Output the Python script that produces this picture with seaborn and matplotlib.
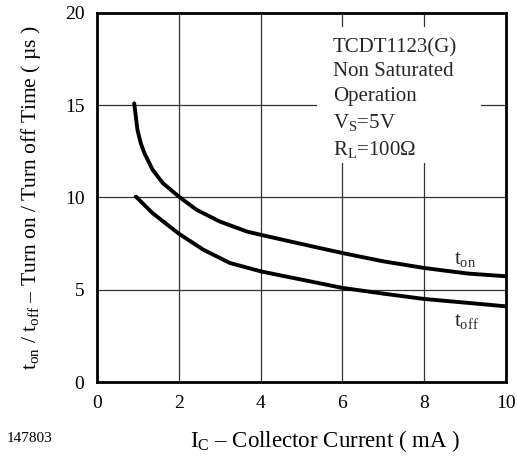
import pandas as pd
import matplotlib
matplotlib.use("Agg")
import matplotlib.pyplot as plt
from matplotlib.patches import Rectangle
import seaborn as sns

# t_on / t_off (IC in mA, time in us)
ic_on = [0.91, 0.99, 1.07, 1.16, 1.36, 1.61, 2.0, 2.43, 3.0, 3.66, 4.0, 4.48, 5.0, 6.0, 7.0, 8.0, 9.06, 10.0]
t_on = [15.1, 13.66, 12.94, 12.4, 11.5, 10.78, 10.05, 9.34, 8.7, 8.16, 7.98, 7.74, 7.48, 6.99, 6.54, 6.18, 5.88, 5.73]
ic_off = [0.95, 1.36, 2.0, 2.6, 3.25, 4.0, 4.48, 5.0, 6.0, 7.0, 8.0, 9.06, 10.0]
t_off = [10.05, 9.15, 8.04, 7.17, 6.45, 6.0, 5.78, 5.55, 5.1, 4.79, 4.5, 4.29, 4.1]
x_ticks = [0, 2, 4, 6, 8, 10]
y_ticks = [0, 5, 10, 15, 20]

sns.set_theme(style="white")
plt.rcParams['font.family'] = ['Liberation Serif', 'DejaVu Serif']
plt.rcParams['mathtext.fontset'] = 'custom'
plt.rcParams['mathtext.rm'] = 'Liberation Serif'
plt.rcParams['mathtext.it'] = 'Liberation Serif'

df_on = pd.DataFrame({"ic": ic_on, "t": t_on})
df_off = pd.DataFrame({"ic": ic_off, "t": t_off})

fig = plt.figure(figsize=(5.17, 4.57), dpi=100)
ax = fig.add_axes([0.1876, 0.1641, 0.7911, 0.8075])

sns.lineplot(data=df_on, x="ic", y="t", ax=ax, color="black", lw=2.8, zorder=3)
sns.lineplot(data=df_off, x="ic", y="t", ax=ax, color="black", lw=2.8, zorder=3)

ax.set_xlim(0, 10)
ax.set_ylim(0, 20)
ax.set_xticks(x_ticks)
ax.set_yticks(y_ticks)
ax.grid(True, color="#333333", lw=0.9)
ax.tick_params(length=0, labelsize=14, colors="black", pad=9)
for s in ax.spines.values():
    s.set_color("black")
    s.set_linewidth(2)

ax.set_xlabel(r"$\mathrm{I_C}$ – Collector Current ( mA )", fontsize=16.5, color="black")
ax.xaxis.set_label_coords(0.557, -0.125)
ax.set_ylabel(r"$\mathrm{t_{on}}$ / $\mathrm{t_{off}}$ – Turn on / Turn off Time ( µs )",
              fontsize=15.5, color="black", labelpad=16)

# white box behind the conditions text, cutting the grid
ax.add_patch(Rectangle((5.38, 11.88), 4.0, 7.35, facecolor="white", edgecolor="none", zorder=1))
ax.text(5.77, 18.65,
        "TCDT1123(G)\nNon Saturated\nOperation\n" + r"$\mathrm{V_S}$=5V" + "\n" + r"$\mathrm{R_L}$=100Ω",
        fontsize=15, va="top", ha="left", linespacing=1.38, zorder=4)

ax.text(8.72, 6.65, r"$\mathrm{t_{on}}$", fontsize=15, va="center", ha="left")
ax.text(8.72, 3.3, r"$\mathrm{t_{off}}$", fontsize=15, va="center", ha="left")

fig.text(0.012, 0.033, "147803", fontsize=11, color="black")

fig.savefig("out.png", dpi=100)
